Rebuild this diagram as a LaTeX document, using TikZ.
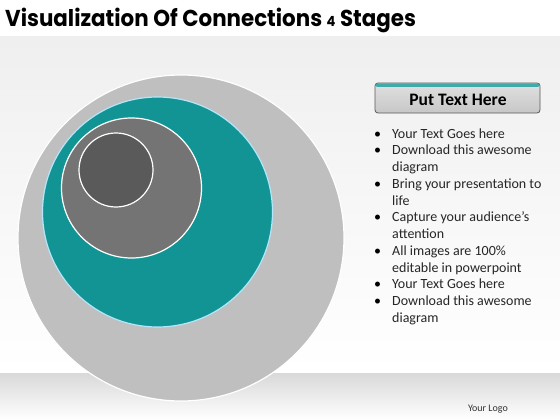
\documentclass[tikz,border=0pt]{standalone}
\usepackage{fontspec}
\setmainfont{Carlito}
\newfontfamily\titlefont{Poppins}[UprightFont=* Bold]
\usetikzlibrary{shadings}
\definecolor{tealc}{HTML}{139494}
\definecolor{outerc}{HTML}{BFBFBF}
\definecolor{midc}{HTML}{747474}
\definecolor{darkc}{HTML}{5A5A5A}
\definecolor{bgtop}{HTML}{EFEFEF}
\tikzset{
  ring/.style={draw=white, line width=1.2pt},
  bullet/.style={anchor=base west, font=\fontsize{14}{17}\selectfont, inner sep=0pt, text=black!85},
  dot/.style={anchor=base west, font=\fontsize{14}{17}\selectfont, inner sep=0pt}
}
\begin{document}
\begin{tikzpicture}[x=1pt,y=-1pt]
\useasboundingbox (0,0) rectangle (560,420);
\fill[white] (0,0) rectangle (560,420);
% background band
\shade[top color=bgtop, bottom color=white] (0,37) rectangle (560,372);
\shade[top color=black!15, bottom color=white] (0,373) rectangle (560,420);
% circles
\node[circle, ring, fill=outerc, minimum size=326pt, inner sep=0pt] (outer) at (181,238) {};
\node[circle, draw=cyan!30, line width=1.2pt, fill=tealc, minimum size=230pt, inner sep=0pt] (teal) at (157.5,212) {};
\node[circle, ring, fill=midc, minimum size=140pt, inner sep=0pt] (mid) at (131.5,188) {};
\node[circle, ring, fill=darkc, minimum size=74pt, inner sep=0pt] (dark) at (116,170) {};
% title
\node[anchor=base west, inner sep=0pt, xscale=0.93, transform shape, font=\titlefont\fontsize{23}{26}\selectfont] (title) at (5,27) {Visualization Of Connections {\fontsize{14}{16}\selectfont 4} Stages};
% button
\shade[top color=black!12, bottom color=black!22, rounded corners=3pt] (375,83) rectangle (540,113);
\draw[black!65, line width=0.8pt, rounded corners=3pt] (375,83) rectangle (540,113);
\fill[tealc!80, rounded corners=2pt] (375.5,83.5) rectangle (539.5,87);
\node[font=\bfseries\fontsize{17.5}{20}\selectfont] (btn) at (458,99.5) {Put Text Here};
% bullets
\foreach \t [count=\i from 0] in {Your Text Goes here,Download this awesome,diagram,Bring your presentation to,life,Capture your audience’s,attention,All images are 100\%,editable in powerpoint,Your Text Goes here,Download this awesome,diagram}{
  \node[bullet] (l\i) at (392,{138+16.75*\i}) {\t};
}
\foreach \i in {0,1,3,5,7,9,10}{
  \node[dot] (d\i) at (374,{138+16.75*\i}) {•};
}
\node[anchor=base east, inner sep=0pt, font=\fontsize{10}{11}\selectfont, text=black!80] (logo) at (508,411) {Your Logo};
\end{tikzpicture}
\end{document}
